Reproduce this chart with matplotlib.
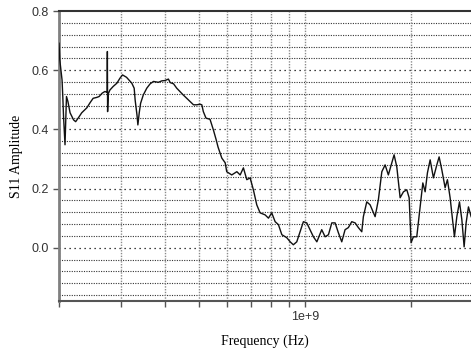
import numpy as np
import matplotlib
matplotlib.use("Agg")
import matplotlib.pyplot as plt

# frequency in MHz, S11 amplitude
freq_mhz = [200, 201, 204, 205, 206, 207, 208, 210, 212, 215, 220, 223, 227, 232,
            240, 245, 250, 256, 260, 265, 270, 274, 274.4, 274.8, 276, 279, 285,
            292, 298, 303, 311, 322, 327, 329, 333, 335, 338, 341, 347, 355, 363,
            371, 383, 392, 400, 409, 414, 423, 432, 441, 451, 461, 471, 482, 492,
            503, 509, 514, 523, 537, 549, 559, 566, 580, 593, 599, 619, 640, 654,
            668, 683, 698, 713, 729, 745, 770, 787, 804, 822, 840, 859, 887, 907,
            926, 947, 968, 989, 1011, 1033, 1056, 1080, 1115, 1140, 1165, 1191,
            1217, 1243, 1271, 1299, 1327, 1357, 1387, 1417, 1449, 1464, 1497, 1530,
            1581, 1615, 1652, 1688, 1724, 1763, 1790, 1822, 1862, 1903, 1945, 1975,
            2000, 2031, 2076, 2122, 2160, 2193, 2226, 2266, 2315, 2367, 2403, 2446,
            2499, 2537, 2582, 2656, 2698, 2745, 2788, 2830, 2867, 2911, 2963]
s11 = [0.691, 0.635, 0.567, 0.511, 0.443, 0.398, 0.348, 0.511, 0.494, 0.456, 0.432,
       0.426, 0.439, 0.456, 0.473, 0.490, 0.505, 0.508, 0.511, 0.522, 0.528, 0.525,
       0.663, 0.460, 0.520, 0.533, 0.545, 0.556, 0.573, 0.584, 0.576, 0.556, 0.539,
       0.500, 0.449, 0.415, 0.456, 0.488, 0.516, 0.539, 0.554, 0.562, 0.559, 0.564,
       0.565, 0.570, 0.558, 0.554, 0.539, 0.528, 0.516, 0.505, 0.494, 0.483, 0.483,
       0.485, 0.483, 0.460, 0.438, 0.434, 0.398, 0.365, 0.340, 0.303, 0.287, 0.257,
       0.246, 0.257, 0.246, 0.270, 0.230, 0.236, 0.196, 0.145, 0.118, 0.111, 0.100,
       0.118, 0.088, 0.078, 0.044, 0.034, 0.020, 0.010, 0.020, 0.054, 0.088, 0.084,
       0.061, 0.037, 0.020, 0.061, 0.037, 0.044, 0.084, 0.084, 0.051, 0.020, 0.061,
       0.068, 0.088, 0.084, 0.068, 0.054, 0.105, 0.155, 0.145, 0.105, 0.162, 0.257,
       0.280, 0.246, 0.287, 0.314, 0.273, 0.169, 0.189, 0.196, 0.169, 0.017, 0.037,
       0.037, 0.138, 0.219, 0.189, 0.253, 0.297, 0.236, 0.280, 0.307, 0.263, 0.203,
       0.230, 0.169, 0.037, 0.105, 0.155, 0.095, 0.003, 0.084, 0.138, 0.105]

yticks = [0.0, 0.2, 0.4, 0.6, 0.8]
ytick_labels = ["0.0", "0.2", "0.4", "0.6", "0.8"]
xmajor = [1e9]
xmajor_labels = ["1e+9"]
xminor = [2e8, 3e8, 4e8, 5e8, 6e8, 7e8, 8e8, 9e8, 2e9]

freq = np.array(freq_mhz) * 1e6

fig = plt.figure(figsize=(4.71, 3.56), dpi=100)
ax = fig.add_axes([0.1253, 0.1545, 0.8747, 0.8146])

ax.set_xscale("log")
ax.set_xlim(2e8, 2.96e9)
ax.set_ylim(-0.18, 0.8)

# grid: y every 0.04, x at the log decades
for v in np.arange(-0.16, 0.8, 0.04):
    if abs(v / 0.2 - round(v / 0.2)) < 1e-6:
        ax.axhline(v, color="black", lw=0.9, ls=(0, (1, 3)), zorder=1)
    else:
        ax.axhline(v, color="#333333", lw=0.8, ls=(0, (1, 1.2)), zorder=1)
for f in xminor + xmajor:
    ax.axvline(f, color="#8c8c8c", lw=1.0, ls=(0, (1, 1)), zorder=1)

ax.plot(freq, s11, color="#111111", lw=1.0, zorder=3)

ax.set_xticks(xmajor)
ax.set_xticklabels(xmajor_labels)
ax.set_xticks(xminor, minor=True)
ax.set_xticklabels([], minor=True)
ax.set_yticks(yticks)
ax.set_yticklabels(ytick_labels)
ax.yaxis.set_minor_locator(matplotlib.ticker.NullLocator())

ax.tick_params(axis="both", which="both", direction="out", length=4,
               width=1, colors="#555555", labelcolor="#333333", labelsize=9)
for lab in ax.get_xticklabels() + ax.get_yticklabels():
    lab.set_fontfamily("Liberation Sans")

ax.spines["right"].set_visible(False)
ax.spines["left"].set_color("#808080")
ax.spines["left"].set_linewidth(2)
ax.spines["bottom"].set_color("#555555")
ax.spines["bottom"].set_linewidth(1.5)
ax.spines["top"].set_color("#333333")
ax.spines["top"].set_linewidth(1.5)

ax.set_xlabel("Frequency (Hz)", fontfamily="Liberation Serif", fontsize=10,
              labelpad=8)
ax.set_ylabel("S11 Amplitude", fontfamily="Liberation Serif", fontsize=10,
              labelpad=6)

fig.savefig("out.png", dpi=100)
